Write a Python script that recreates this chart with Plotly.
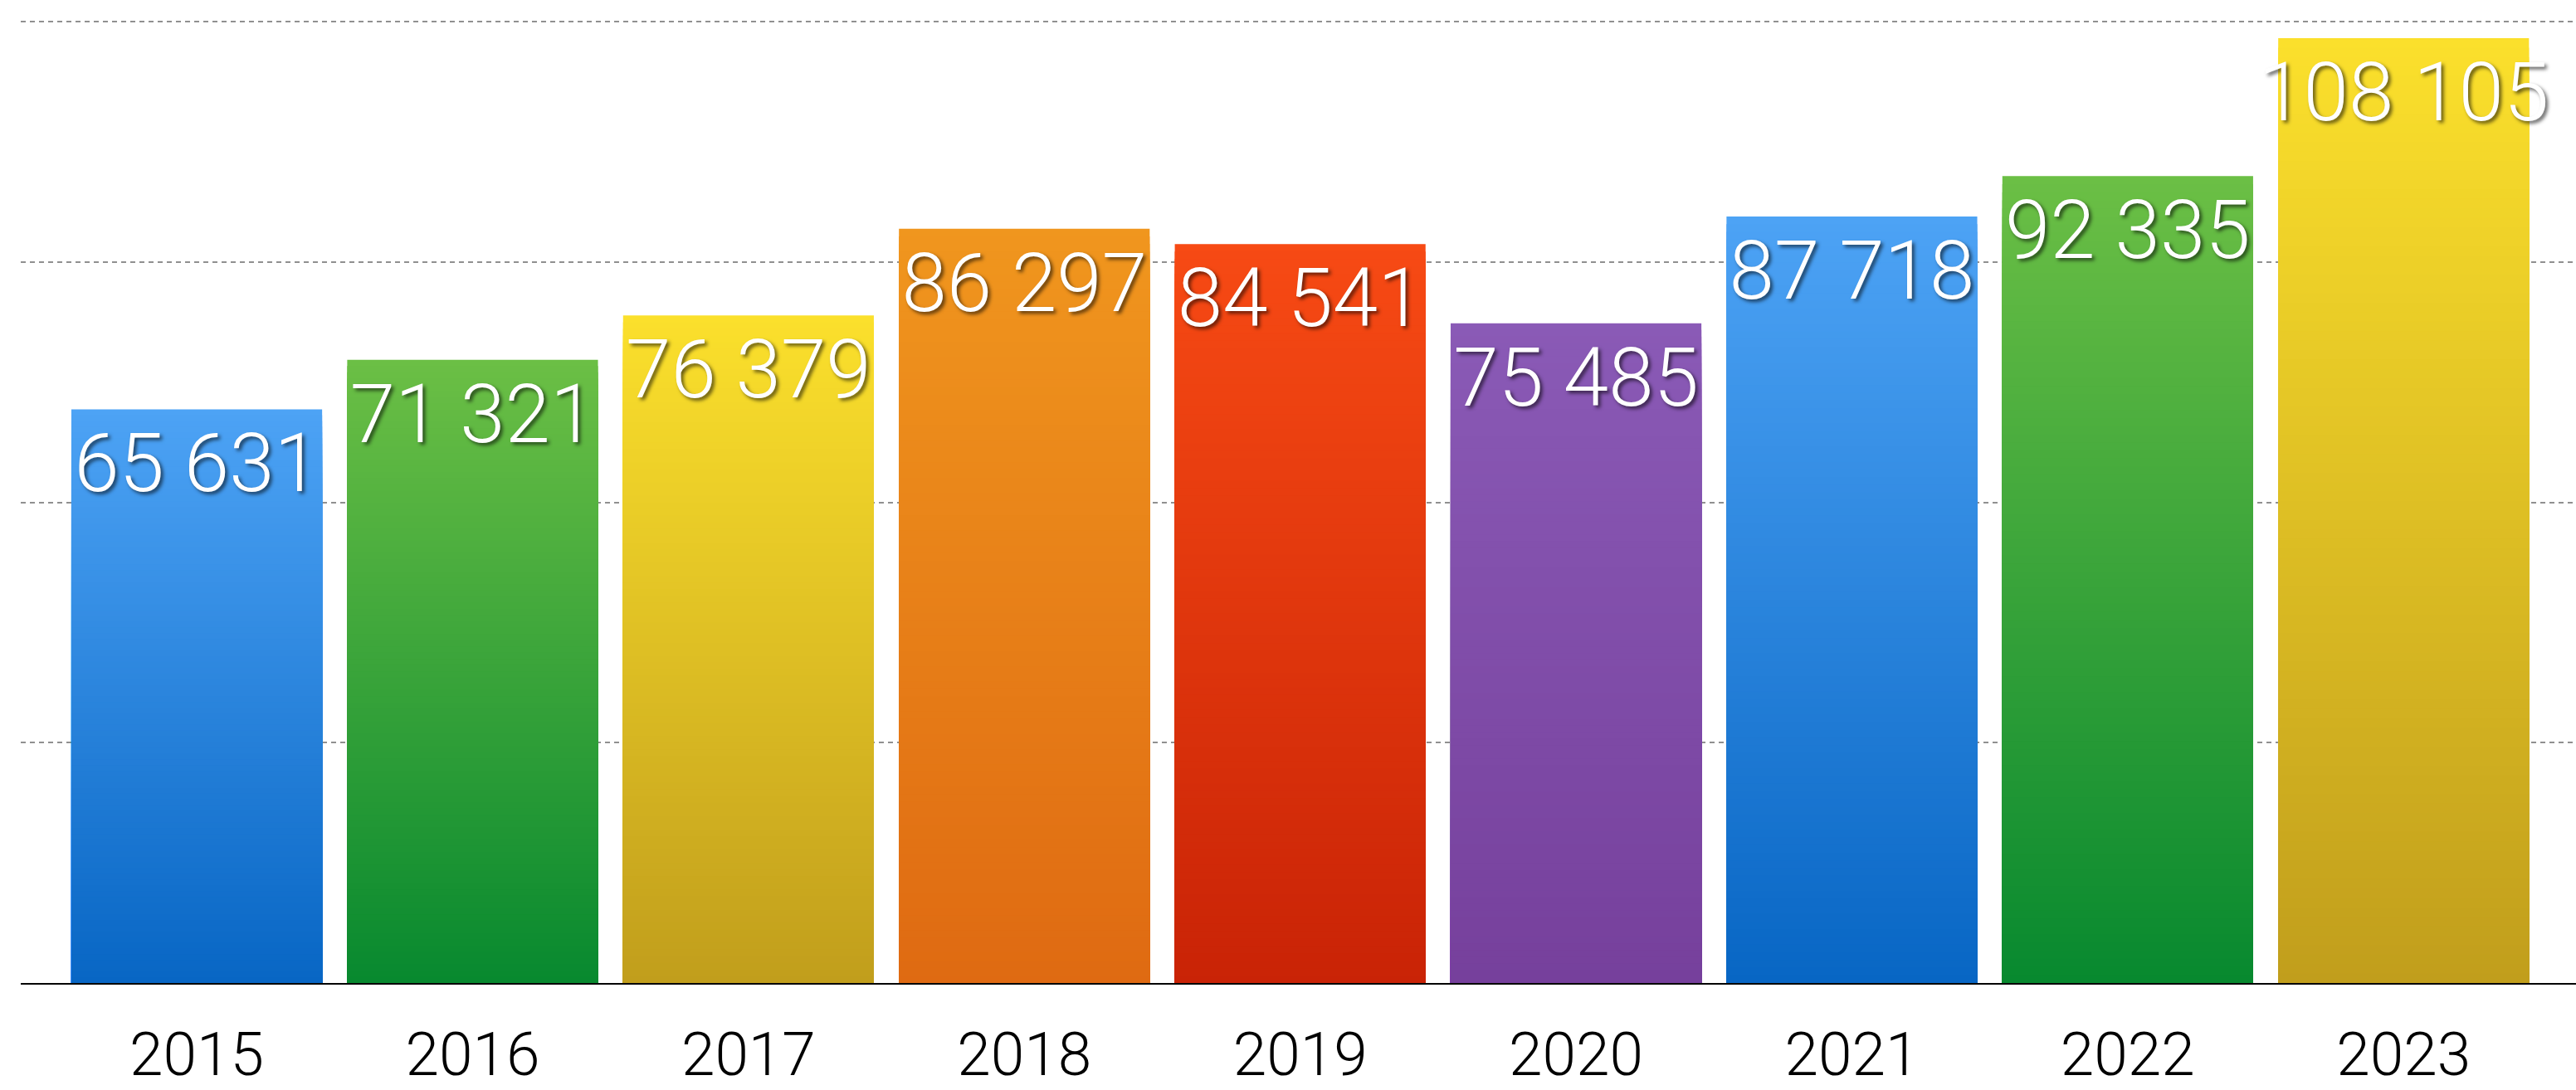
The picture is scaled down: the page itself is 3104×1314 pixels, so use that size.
import plotly.graph_objects as go

years = ["2015", "2016", "2017", "2018", "2019", "2020", "2021", "2022", "2023"]
values = [65631, 71321, 76379, 86297, 84541, 75485, 87718, 92335, 108105]
labels = ["65 631", "71 321", "76 379", "86 297", "84 541", "75 485", "87 718", "92 335", "108 105"]
top_colors = ["#4DA3F5", "#6CBF45", "#FBE02C", "#F0961E", "#F74A14", "#8A5AB6", "#4DA3F5", "#6CBF45", "#FBE02C"]
bottom_colors = ["#0866C4", "#07892F", "#C19E1C", "#DF6A12", "#C92306", "#76409C", "#0866C4", "#07892F", "#C19E1C"]

FONT = "Roboto"
N = 100


def hex2rgb(h):
    h = h.lstrip("#")
    return tuple(int(h[i:i + 2], 16) for i in (0, 2, 4))


def mix(c_top, c_bot, f):
    a, b = hex2rgb(c_top), hex2rgb(c_bot)
    return "rgb(%d,%d,%d)" % tuple(round(b[i] + (a[i] - b[i]) * f) for i in range(3))


fig = go.Figure()
for k in range(N):
    frac = (N - k) / N
    f = (N - k - 0.5) / N
    fig.add_trace(go.Bar(
        x=years,
        y=[v * frac for v in values],
        marker=dict(color=[mix(t, b, f) for t, b in zip(top_colors, bottom_colors)],
                    line=dict(width=0)),
        hoverinfo="skip",
        showlegend=False,
    ))

# value labels just under the top of each bar
fig.add_trace(go.Scatter(
    x=years, y=values, text=labels,
    mode="markers+text", textposition="bottom center",
    marker=dict(size=39, color="rgba(0,0,0,0)"),
    textfont=dict(family=FONT, size=98, color="white", weight=300,
                  shadow="3px 3px 4px rgba(0,0,0,0.6)"),
    cliponaxis=False, hoverinfo="skip", showlegend=False,
))

fig.update_layout(
    width=3104, height=1314,
    margin=dict(l=25, r=0, t=23, b=117),
    barmode="overlay", bargap=0.091,
    plot_bgcolor="white", paper_bgcolor="white",
    font=dict(family=FONT, color="black"),
    xaxis=dict(
        type="category", range=[-0.638, 8.625],
        showline=True, linecolor="black", linewidth=2,
        showgrid=False, ticks="",
        tickfont=dict(family=FONT, size=73, color="black", weight=300),
        ticklabelstandoff=21,
    ),
    yaxis=dict(
        range=[0, 110300], tick0=0, dtick=27500,
        showticklabels=False, zeroline=False,
        showgrid=True, gridcolor="#909090", gridwidth=2, griddash="6px,5px",
    ),
)

fig.write_html(
    "out.html",
    config={"displayModeBar": False},
    post_script="document.body.style.margin='0';document.body.style.overflow='hidden';",
)
